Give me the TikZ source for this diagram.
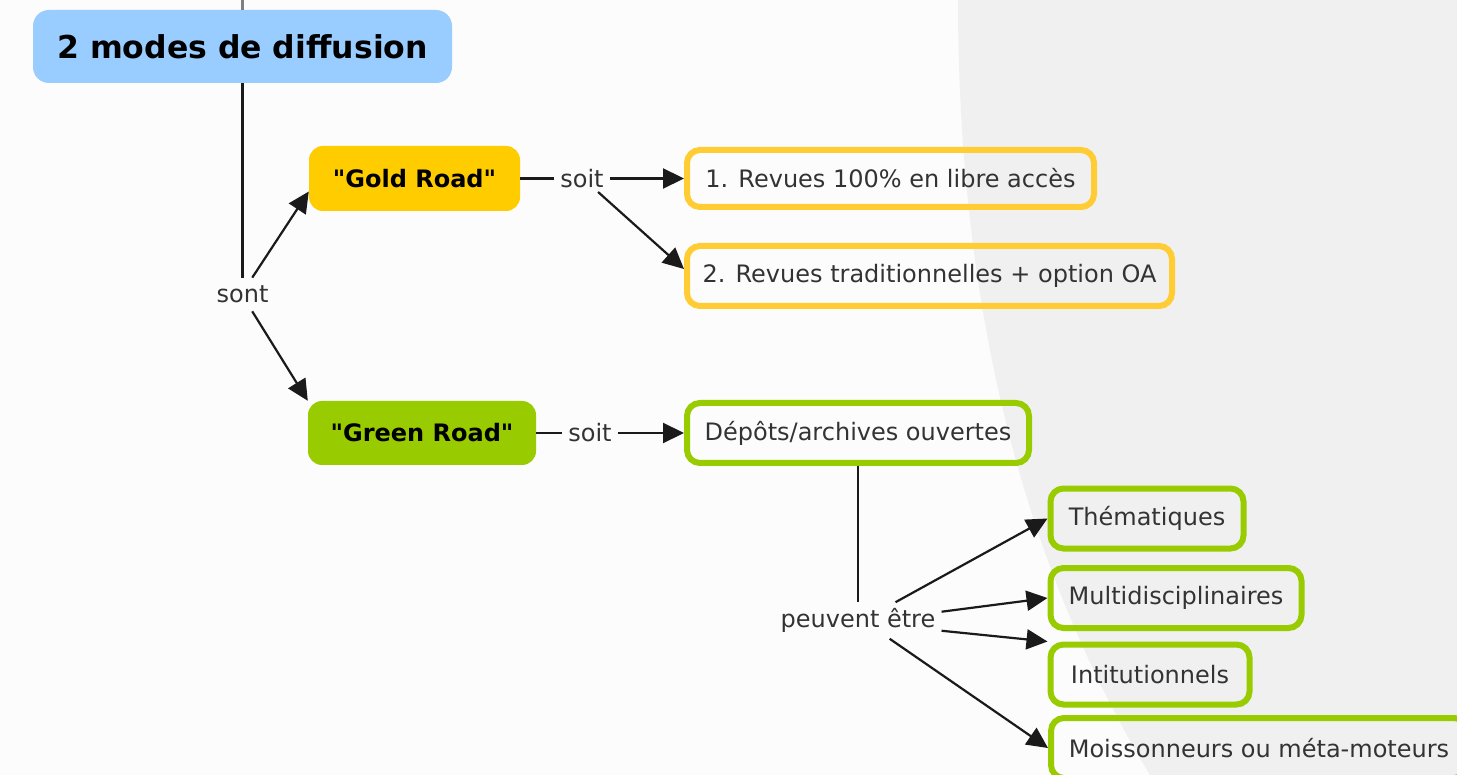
\documentclass[tikz,border=0pt]{standalone}
\usepackage{fontspec}
\setmainfont{DejaVu Sans}[Ligatures=TeXOff]
\usetikzlibrary{arrows.meta}
\definecolor{bgwhite}{HTML}{FCFCFC}
\definecolor{bggrey}{HTML}{F0F0F0}
\definecolor{titleblue}{HTML}{99CCFF}
\definecolor{goldfill}{HTML}{FFCC00}
\definecolor{greenfill}{HTML}{99CC00}
\definecolor{goldline}{HTML}{FFCC33}
\definecolor{greenline}{HTML}{99CC00}
\definecolor{txt}{HTML}{333333}
\definecolor{linec}{HTML}{1A1A1A}
\tikzset{
  regfont/.style={font=\fontsize{24pt}{28pt}\selectfont},
  mainbox/.style={fill=titleblue, rounded corners=16pt, minimum width=419pt, minimum height=73pt, inner sep=0pt, text=black, font=\fontsize{31.5pt}{36pt}\selectfont\bfseries},
  roadbox/.style={rounded corners=14pt, inner sep=0pt, minimum height=65pt, text=black, font=\fontsize{24pt}{28pt}\selectfont\bfseries},
  goldbox/.style={draw=goldline, line width=6pt, rounded corners=13pt, minimum height=60pt, inner sep=0pt, text=txt, regfont},
  greenbox/.style={draw=greenline, line width=6pt, rounded corners=13pt, minimum height=60pt, inner sep=0pt, text=txt, regfont},
  lbl/.style={inner xsep=6pt, inner ysep=4pt, text=txt, regfont},
  conn/.style={draw=linec, line width=2.2pt},
  arr/.style={conn, -{Triangle[length=21pt,width=20pt]}}
}
\begin{document}
\begin{tikzpicture}[x=1pt, y=-1pt]
\useasboundingbox (0,0) rectangle (1457,775);
\fill[bgwhite] (0,0) rectangle (1457,775);
% light grey region on the right
\fill[bggrey] (958,0) .. controls (958,300) and (1020,560) .. (1150,775) -- (1457,775) -- (1457,0) -- cycle;

% nodes
\node[mainbox] (main) at (242.5,46.5) {2 modes de diffusion};
\node[roadbox, fill=goldfill, minimum width=211pt] (gold) at (414.5,178.5) {"Gold Road"};
\node[roadbox, fill=greenfill, minimum width=228pt, minimum height=64pt] (green) at (422,433) {"Green Road"};

\node[goldbox, minimum width=407pt, minimum height=57pt] (r1) at (890.5,178.5) {1. Revues 100\% en libre accès};
\node[goldbox, minimum width=485pt] (r2) at (929.5,276) {2. Revues traditionnelles + option OA};
\node[greenbox, minimum width=342pt] (dep) at (858,433) {Dépôts/archives ouvertes};

\node[greenbox, minimum width=193pt] (them) at (1147,518.5) {Thématiques};
\node[greenbox, minimum width=251pt] (multi) at (1176,598) {Multidisciplinaires};
\node[greenbox, minimum width=199pt] (inst) at (1150,674.5) {Intitutionnels};
\node[greenbox, minimum width=416pt] (moiss) at (1259,748) {Moissonneurs ou méta-moteurs};

% labels
\node[lbl, inner ysep=8pt] (sont) at (242.5,294.5) {sont};
\node[lbl] (soit1) at (582,178.5) {soit};
\node[lbl] (soit2) at (590,433) {soit};
\node[lbl, inner ysep=6pt] (peuv) at (858,620.5) {peuvent être};

% connectors
\coordinate (topend) at (242.5,0);
\draw[conn, draw=gray] (main.north) -- (topend);
\draw[conn] (main.south) -- (sont.north);
\draw[arr] (sont.60) -- (gold.187);
\draw[arr] (sont.-60) -- (green.north west);

\draw[conn] (gold.east) -- (soit1.west);
\draw[arr] (soit1.east) -- (r1.west);
\draw[arr] (soit1.-40) -- ([yshift=7pt]r2.west);

\draw[conn] (green.east) -- (soit2.west);
\draw[arr] (soit2.east) -- (dep.west);

\draw[conn] (dep.south) -- (peuv.north);
\draw[arr] (peuv.26) -- (them.west);
\draw[arr] (peuv.6) -- (multi.west);
\draw[arr] (peuv.-7) -- (inst.north west);
\draw[arr] (peuv.-30) -- (moiss.west);
\end{tikzpicture}
\end{document}
